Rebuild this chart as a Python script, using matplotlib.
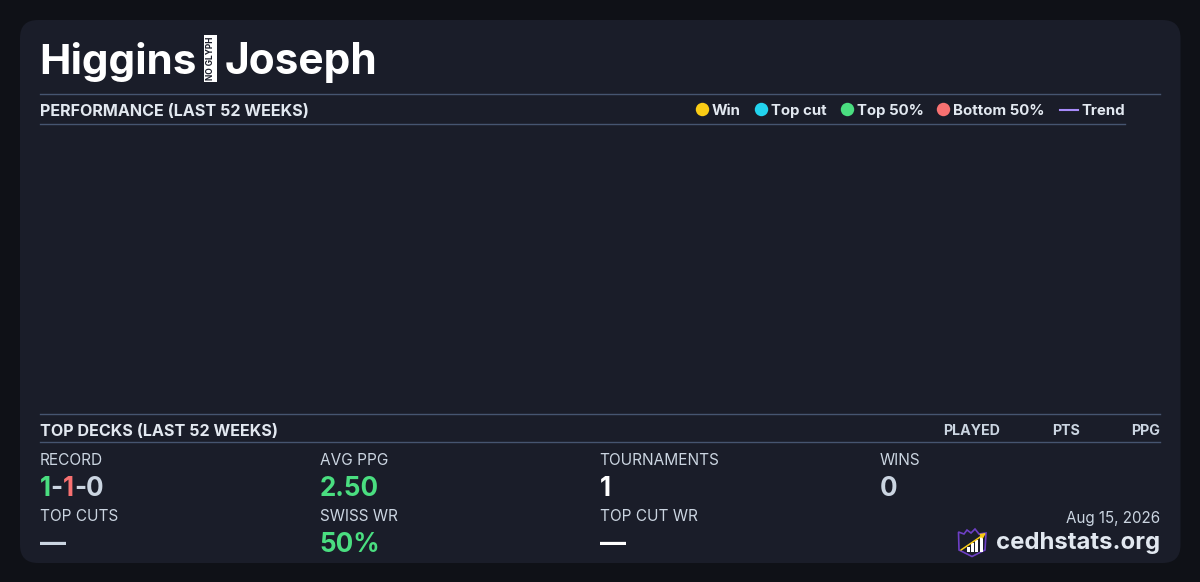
import matplotlib
matplotlib.use('Agg')
import matplotlib.pyplot as plt
from matplotlib.patches import FancyBboxPatch, Rectangle, Circle, Polygon

plt.rcParams['font.family'] = ['Inter', 'DejaVu Sans']

BG = '#0f1117'
CARD = '#1a1d29'
RULE = '#465570'
TXT = '#e2e8f0'
MUTED = '#cbd5e1'
GREEN = '#4ade80'
RED = '#f87171'

# Chart content
player_first = 'Higgins'
player_last = 'Joseph'
perf_title = 'PERFORMANCE (LAST 52 WEEKS)'
decks_title = 'TOP DECKS (LAST 52 WEEKS)'
legend_labels = ['Win', 'Top cut', 'Top 50%', 'Bottom 50%']
legend_colors = ['#facc15', '#22d3ee', '#4ade80', '#f87171']
legend_x = [702.5, 761.5, 847.5, 943.5]
deck_columns = ['PLAYED', 'PTS', 'PPG']
deck_column_x = [1000, 1080, 1160]
stat_labels = ['AVG PPG', 'TOURNAMENTS', 'WINS', 'TOP CUTS', 'SWISS WR', 'TOP CUT WR']
stat_values = ['2.50', '1', '0', '\u2014', '50%', '\u2014']
stat_colors = [GREEN, '#ffffff', MUTED, MUTED, GREEN, '#ffffff']
stat_x = [319.5, 599.5, 879.5, 39.5, 319.5, 599.5]
stat_row = [0, 0, 0, 1, 1, 1]
row_label_y = [465, 521]
row_value_y = [496, 552]
record_parts = ['1', '-', '1', '-', '0']
record_colors = [GREEN, MUTED, RED, MUTED, MUTED]
logo_bars = [5, 9, 12, 15]
date_text = 'Aug 15, 2026'
site_text = 'cedhstats.org'

fig = plt.figure(figsize=(12, 5.82), dpi=100, facecolor=BG)
ax = fig.add_axes([0, 0, 1, 1])
ax.set_xlim(0, 1200)
ax.set_ylim(582, 0)
ax.axis('off')


def px(size):
    return size * 0.72


# card
ax.add_patch(FancyBboxPatch((20, 20), 1160.5, 543, boxstyle='round,pad=0,rounding_size=18',
                            fc=CARD, ec='none'))

# title with the missing glyph box in the middle
ax.text(39.5, 58, player_first, color='white', fontsize=px(42.2), fontweight='bold', va='center_baseline')
ax.add_patch(Rectangle((204, 35), 13, 47, fc='white', ec='none'))
ax.text(210.5, 58.5, 'NO GLYPH', color=CARD, fontsize=px(8.4), fontweight='bold', rotation=90,
        ha='center', va='center')
ax.text(225, 58, player_last, color='white', fontsize=px(42.4), fontweight='bold', va='center_baseline')

# section rules
ax.plot([40, 1160], [94, 94], color=RULE, lw=1)
ax.plot([40, 1124.5], [124, 124], color=RULE, lw=1)
ax.plot([40, 1160], [414, 414], color=RULE, lw=1)
ax.plot([40, 1160], [442, 442], color=RULE, lw=1)

ax.text(40, 111, perf_title, color=TXT, fontsize=px(16.13), fontweight='bold', va='center')
ax.text(40, 431, decks_title, color=TXT, fontsize=px(16.13), fontweight='bold', va='center')

# legend
for label, color, x in zip(legend_labels, legend_colors, legend_x):
    ax.add_patch(Circle((x, 109.5), 6.7, fc=color, ec='none'))
    ax.text(x + 9.5, 115, label, color=TXT, fontsize=px(15), fontweight='bold', va='baseline')
ax.plot([1059.5, 1078], [109.5, 109.5], color='#a78bfa', lw=1.5)
ax.text(1081, 115, 'Trend', color=TXT, fontsize=px(15), fontweight='bold', va='baseline')

# table header
for label, x in zip(deck_columns, deck_column_x):
    ax.text(x, 435, label, color=MUTED, fontsize=px(14.2), fontweight='bold', ha='right', va='baseline')

# stats
ax.text(40, row_label_y[0], 'RECORD', color=MUTED, fontsize=px(15.5), va='baseline')
renderer = fig.canvas.get_renderer()
x = 39.5
for part, color in zip(record_parts, record_colors):
    t = ax.text(x, row_value_y[0], part, color=color, fontsize=px(26), fontweight='bold', va='baseline')
    x += t.get_window_extent(renderer).width

for label, value, color, x, row in zip(stat_labels, stat_values, stat_colors, stat_x, stat_row):
    ax.text(x, row_label_y[row], label, color=MUTED, fontsize=px(15.4), va='baseline')
    ax.text(x, row_value_y[row], value, color=color, fontsize=px(26), fontweight='bold', va='baseline')

# footer
ax.text(1160.5, 518.5, date_text, color=MUTED, fontsize=px(15.2), ha='right', va='center')
ax.text(1160.5, 543, site_text, color=TXT, fontsize=px(23.9), fontweight='bold', ha='right', va='center')

# logo
ax.add_patch(Polygon([(958.5, 532), (964, 534), (967, 530), (971, 533), (975, 529), (979, 534), (986, 533),
                      (985, 550), (972, 556.5), (959, 550)], closed=True, fc=CARD, ec='#6d3fc4', lw=1.2))
for i, h in enumerate(logo_bars):
    ax.add_patch(Rectangle((966.5 + i * 4.4, 552 - h), 3, h, fc='white', ec='none'))
ax.annotate('', xy=(986, 533), xytext=(961, 550),
            arrowprops=dict(arrowstyle='-|>', color='#facc15', lw=1.1, mutation_scale=7, shrinkA=0, shrinkB=0))

fig.savefig('out.png', dpi=100, facecolor=BG)
